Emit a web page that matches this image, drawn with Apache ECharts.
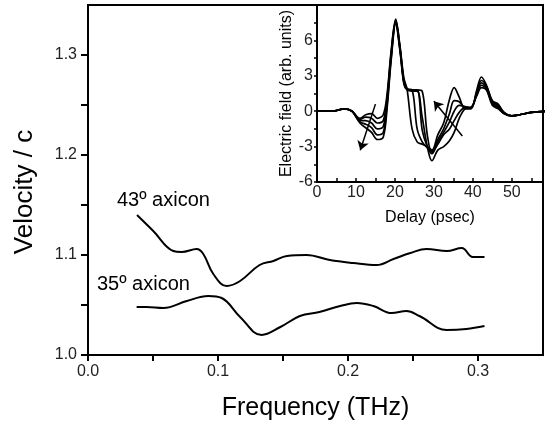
<!DOCTYPE html>
<html><head><meta charset="utf-8">
<script src="https://cdn.jsdelivr.net/npm/echarts@6/dist/echarts.min.js"></script>
<style>html,body{margin:0;padding:0;background:#fff}#c{width:545px;height:426px}</style>
</head><body><div id="c"></div>
<script>
// Main chart: velocity vs frequency
const freq43 = [0.0377,0.0502,0.0656,0.072,0.0836,0.0887,0.0964,0.1067,0.117,0.132,0.1426,0.153,0.168,0.186,0.204,0.222,0.235,0.248,0.2605,0.276,0.2875,0.296,0.305];
const vel43  = [1.140,1.124,1.104,1.103,1.106,1.101,1.081,1.069,1.074,1.090,1.094,1.099,1.100,1.095,1.092,1.090,1.096,1.102,1.106,1.104,1.107,1.098,1.098];
const freq35 = [0.0374,0.045,0.058,0.076,0.0925,0.1028,0.117,0.1336,0.148,0.163,0.178,0.194,0.2067,0.2195,0.2336,0.245,0.255,0.276,0.291,0.305];
const vel35  = [1.048,1.048,1.047,1.054,1.059,1.057,1.038,1.020,1.028,1.039,1.043,1.049,1.052,1.049,1.042,1.044,1.039,1.025,1.026,1.029];
const freqTicks = [0,0.05,0.1,0.15,0.2,0.25,0.3];
const freqLabels = [0,0.1,0.2,0.3];
const velTicks = [1.0,1.05,1.1,1.15,1.2,1.25,1.3];
const velLabels = [1.0,1.1,1.2,1.3];
// Inset: electric field traces vs delay
const delayPs = [0,4,7,9,11,12.5,14,15.5,17,18,19,20.2,21.3,22.3,23.1,24.4,25.7,27,28.3,29.5,31,32.5,34,35.2,36.5,38,39.5,41,42.2,43.5,45,46.5,48,50,52,55,59];
const trace1 = [0,0,0.2,0,-0.6,-0.3,-0.2,-0.6,-0.3,1.5,5.0,7.8,5.5,2.8,1.9,-1.5,-2.6,-2.8,-3.0,-3.3,-2.0,-1.0,1.0,2.0,1.2,0.2,0.2,1.8,2.9,2.2,0.9,0.6,-0.1,-0.4,-0.3,-0.1,0];
const trace2 = [0,0,0.2,0,-0.7,-0.5,-0.6,-1.0,-0.8,1.2,4.8,7.7,5.4,2.6,1.9,1.8,-1.5,-2.6,-3.1,-3.4,-2.4,-1.5,-0.2,0.9,0.8,0.3,0.3,1.6,2.6,2.1,0.8,0.5,-0.1,-0.4,-0.3,-0.1,0];
const trace3 = [0,0,0.2,0,-0.8,-0.8,-1.0,-1.5,-1.3,0.9,4.6,7.6,5.3,2.5,1.9,1.8,1.8,-1.6,-3.0,-3.6,-2.6,-1.8,-0.9,0.0,0.5,0.4,0.3,1.5,2.4,2.0,0.7,0.4,-0.2,-0.4,-0.3,-0.1,0];
const trace4 = [0,0,0.2,0,-0.9,-1.1,-1.4,-2.0,-1.8,0.6,4.4,7.5,5.2,2.4,1.9,1.8,1.8,1.7,-2.0,-3.5,-2.8,-2.0,-1.5,-0.8,-0.1,0.3,0.3,1.4,2.2,1.9,0.6,0.3,-0.2,-0.4,-0.3,-0.1,0];
const trace5 = [0,0,0.2,0,-1.0,-1.4,-1.8,-2.4,-2.2,0.3,4.2,7.4,5.1,2.3,1.8,1.7,1.7,-0.5,-3.0,-4.2,-3.3,-3.0,-2.5,-1.8,-0.6,0.2,0.3,1.3,2.0,1.8,0.5,0.2,-0.2,-0.4,-0.3,-0.1,0];
const delayTicks = [0,5,10,15,20,25,30,35,40,45,50,55];
const delayLabels = [0,10,20,30,40,50];
const fieldTicks = [-6,-4.5,-3,-1.5,0,1.5,3,4.5,6,7.5];
const fieldLabels = [-6,-3,0,3,6];
// Arrows [start, end] in data units (delay, field)
const arrow1 = [[15,0.6],[11.1,-3.3]];
const arrow2 = [[37.3,-2.1],[30,0.85]];

const FONT = 'Liberation Sans, Arial, sans-serif';
const pair = (xs, ys) => xs.map((x,i)=>[x, ys[i]]);

const chart = echarts.init(document.getElementById('c'), null, {renderer:'canvas'});
const traces = [trace1,trace2,trace3,trace4,trace5];
const insetSeries = traces.map((tr, i) => ({
  type:'line', xAxisIndex:1, yAxisIndex:1, data: pair(delayPs, tr),
  showSymbol:false, smooth:0.35, lineStyle:{color:'#000', width:1.7}, z:5,
  markLine: i === 0 ? {
    silent:true, symbol:['none','arrow'], symbolSize:9, animation:false,
    label:{show:false}, lineStyle:{color:'#000', width:1.5, type:'solid'},
    data:[
      [{coord:arrow1[0]},{coord:arrow1[1]}],
      [{coord:arrow2[0]},{coord:arrow2[1]}]
    ]
  } : undefined
}));

chart.setOption({
  animation:false,
  backgroundColor:'#fff',
  grid:[
    {left:88, top:5, right:2, bottom:70, show:true, borderColor:'#000', borderWidth:2, backgroundColor:'transparent'},
    {left:317, top:5, right:2, bottom:244, show:true, borderColor:'#000', borderWidth:2, backgroundColor:'#fff', z:3}
  ],
  xAxis:[
    {type:'value', gridIndex:0, min:0, max:0.35,
     axisLine:{show:true, onZero:false, lineStyle:{color:'#000', width:2}},
     axisTick:{show:true, inside:false, length:6, customValues:freqTicks, lineStyle:{color:'#000', width:2}},
     axisLabel:{customValues:freqLabels, formatter:v=>v.toFixed(1), color:'#222', fontSize:16, fontFamily:FONT, margin:9},
     splitLine:{show:false},
     name:'Frequency (THz)', nameLocation:'middle', nameGap:41,
     nameTextStyle:{fontSize:25, fontFamily:FONT, color:'#000'}},
    {type:'value', gridIndex:1, min:0, max:58,
     axisLine:{show:true, onZero:false, lineStyle:{color:'#000', width:2}},
     axisTick:{show:true, inside:true, length:4, customValues:delayTicks, lineStyle:{color:'#000', width:1.5}},
     axisLabel:{customValues:delayLabels, color:'#222', fontSize:16, fontFamily:FONT, margin:3},
     splitLine:{show:false}, z:4,
     name:'Delay (psec)', nameLocation:'middle', nameGap:28,
     nameTextStyle:{fontSize:16, fontFamily:FONT, color:'#000'}}
  ],
  yAxis:[
    {type:'value', gridIndex:0, min:1.0, max:1.35,
     axisLine:{show:true, onZero:false, lineStyle:{color:'#000', width:2}},
     axisTick:{show:true, inside:false, length:7, customValues:velTicks, lineStyle:{color:'#000', width:2}},
     axisLabel:{customValues:velLabels, formatter:v=>v.toFixed(1), color:'#222', fontSize:16, fontFamily:FONT, margin:11},
     splitLine:{show:false}},
    {type:'value', gridIndex:1, min:-6, max:9,
     axisLine:{show:true, onZero:false, lineStyle:{color:'#000', width:2}},
     axisTick:{show:true, inside:false, length:3, customValues:fieldTicks, lineStyle:{color:'#000', width:1.5}},
     axisLabel:{customValues:fieldLabels, color:'#222', fontSize:16, fontFamily:FONT, margin:4},
     splitLine:{show:false}, z:4,
     name:'Electric field (arb. units)', nameLocation:'middle', nameGap:22,
     nameTextStyle:{fontSize:16, fontFamily:FONT, color:'#000'}}
  ],
  graphic:[
    {type:'text', x:25, y:192, rotation:Math.PI/2, z:10,
     style:{text:'Velocity / c', fontSize:26, fontFamily:FONT, fill:'#000', align:'center', verticalAlign:'middle'}},
    {type:'text', x:117, y:200, z:10, style:{text:'43º axicon', fontSize:20, fontFamily:FONT, fill:'#000', verticalAlign:'middle'}},
    {type:'text', x:97, y:284, z:10, style:{text:'35º axicon', fontSize:20, fontFamily:FONT, fill:'#000', verticalAlign:'middle'}}
  ],
  series:[
    {type:'line', xAxisIndex:0, yAxisIndex:0, data:pair(freq43, vel43), showSymbol:false, smooth:0.4, lineStyle:{color:'#000', width:2}},
    {type:'line', xAxisIndex:0, yAxisIndex:0, data:pair(freq35, vel35), showSymbol:false, smooth:0.4, lineStyle:{color:'#000', width:2}},
    ...insetSeries
  ]
});
</script></body></html>
